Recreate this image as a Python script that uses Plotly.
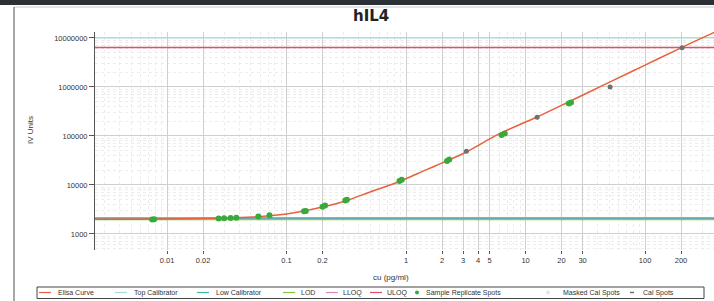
import plotly.graph_objects as go

# ---------------- data ----------------
curve_x = [0.0025, 0.01, 0.02, 0.047, 0.1, 0.2, 0.31, 0.5, 0.86, 1.5, 2.2, 3.2, 6, 12.5, 25, 50, 100, 200, 380]
curve_y = [2000, 2030, 2080, 2190, 2560, 3560, 4710, 7200, 11500, 20800, 31000, 47000, 110000,
           244000, 550000, 1240000, 2790000, 6300000, 13000000]

sample_x = [0.0075, 0.0078, 0.027, 0.030, 0.034, 0.038, 0.058, 0.072, 0.14, 0.145,
            0.20, 0.21, 0.31, 0.32, 0.88, 0.92, 2.2, 2.3, 6.3, 6.7, 23, 24]
sample_y = [1980, 2000, 2080, 2100, 2120, 2150, 2280, 2400, 2900, 2950,
            3600, 3800, 4800, 5000, 12000, 12800, 31000, 33000, 105000, 112000, 460000, 480000]

cal_x = [3.2, 12.5, 51, 204]
cal_y = [49000, 240000, 1000000, 6300000]

top_calibrator = 10000000
ulog = 6400000
lloq = 2150
low_calibrator = 2050
lod = 1950

x_tickvals = [0.01, 0.02, 0.1, 0.2, 1, 2, 3, 4, 5, 10, 20, 30, 100, 200]
x_ticktext = ["0.01", "0.02", "0.1", "0.2", "1", "2", "3", "4", "5", "10", "20", "30", "100", "200"]
y_tickvals = [1000, 10000, 100000, 1000000, 10000000]
y_ticktext = ["1000", "10000", "100000", "1000000", "10000000"]

legend_labels = ["Elisa Curve", "Top Calibrator", "Low Calibrator", "LOD", "LLOQ", "ULOQ",
                 "Sample Replicate Spots", "Masked Cal Spots", "Cal Spots"]

# ---------------- styles ----------------
C_CURVE = "#e8603c"
C_TOP = "#a9dbd3"
C_LOW = "#3fb5a8"
C_LOD = "#86c440"
C_LLOQ = "#d98ab8"
C_ULOQ = "#e0506a"
C_SAMPLE = "#3aa83a"
C_MASKED = "#e4e4e4"
C_CAL = "#707070"

W, H = 714, 301
L, R, T, B = 95, 714, 32, 250  # plot area in pixels
FONT = "Liberation Sans, Arial, sans-serif"

line_x = [0.001, 1000]

fig = go.Figure()
for val, col, wd in [(top_calibrator, C_TOP, 1), (ulog, C_ULOQ, 1.3), (lod, C_LOD, 1.2),
                     (low_calibrator, C_LOW, 1.2), (lloq, C_LLOQ, 1.2)]:
    fig.add_trace(go.Scatter(x=line_x, y=[val, val], mode="lines",
                             line=dict(color=col, width=wd), showlegend=False, hoverinfo="skip"))

fig.add_trace(go.Scatter(x=curve_x, y=curve_y, mode="lines", line=dict(color=C_CURVE, width=1.5, shape="spline"),
                         showlegend=False))
fig.add_trace(go.Scatter(x=sample_x, y=sample_y, mode="markers",
                         marker=dict(color=C_SAMPLE, size=6, line=dict(width=0)), showlegend=False))
fig.add_trace(go.Scatter(x=cal_x, y=cal_y, mode="markers",
                         marker=dict(color=C_CAL, size=5, line=dict(width=0)), showlegend=False))

minor_vals = [m * 10 ** e for e in range(-3, 8) for m in range(2, 10)]


def px2x(px):
    return (px - L) / (R - L)


def py2y(py):
    return (B - py) / (B - T)


fig.update_layout(
    width=W, height=H,
    margin=dict(l=L, r=W - R, t=T, b=H - B),
    paper_bgcolor="white", plot_bgcolor="white",
    showlegend=False,
    font=dict(family=FONT, size=8, color="#333"),
)
fig.update_xaxes(
    type="log", range=[-2.603, 2.577],
    tickvals=x_tickvals, ticktext=x_ticktext,
    ticks="outside", ticklen=3, tickcolor="#555",
    tickfont=dict(size=7.5, color="#333"),
    showgrid=True, gridcolor="#cfcfcf", gridwidth=1,
    minor=dict(tickvals=minor_vals, showgrid=True, gridcolor="#ececec", griddash="dot", ticks=""),
    showline=False, zeroline=False,
)
fig.update_yaxes(
    type="log", range=[2.673, 7.122],
    tickvals=y_tickvals, ticktext=y_ticktext,
    ticks="outside", ticklen=5, tickcolor="#555",
    tickfont=dict(size=7.5, color="#333"),
    showgrid=True, gridcolor="#cfcfcf", gridwidth=1,
    minor=dict(tickvals=minor_vals, showgrid=True, gridcolor="#ececec", griddash="dot", ticks=""),
    showline=True, linecolor="#555", linewidth=1, zeroline=False,
)

shapes = []
annotations = []
# frame
shapes.append(dict(type="rect", xref="paper", yref="paper", x0=px2x(0), x1=px2x(W), y0=py2y(5), y1=py2y(0),
                   fillcolor="#2b3036", line=dict(width=0), layer="above"))
shapes.append(dict(type="line", xref="paper", yref="paper", x0=px2x(14), x1=px2x(W), y0=py2y(7), y1=py2y(7),
                   line=dict(color="#c8c8c8", width=1)))
shapes.append(dict(type="line", xref="paper", yref="paper", x0=px2x(14), x1=px2x(14), y0=py2y(7), y1=py2y(H),
                   line=dict(color="#8a8a8a", width=1.5)))

# titles
annotations.append(dict(text="<b>hIL4</b>", xref="paper", yref="paper", x=px2x(371), y=py2y(16),
                        showarrow=False, font=dict(family="DejaVu Sans, sans-serif", size=15, color="#222"),
                        xanchor="center", yanchor="middle"))
annotations.append(dict(text="cu (pg/ml)", xref="paper", yref="paper", x=px2x(391), y=py2y(277),
                        showarrow=False, font=dict(size=8, color="#333"), xanchor="center", yanchor="middle"))
annotations.append(dict(text="IV Units", xref="paper", yref="paper", x=px2x(30), y=py2y(130),
                        showarrow=False, textangle=-90, font=dict(size=8, color="#333"),
                        xanchor="center", yanchor="middle"))

# manual legend
leg_y = 292.5
shapes.append(dict(type="rect", xref="paper", yref="paper", x0=px2x(37), x1=px2x(704), y0=py2y(298.5),
                   y1=py2y(287), line=dict(color="#444", width=1), fillcolor="white"))
legend_kind = ["line", "line", "line", "line", "line", "line", "dot", "dot", "dash"]
legend_col = [C_CURVE, C_TOP, C_LOW, C_LOD, C_LLOQ, C_ULOQ, C_SAMPLE, C_MASKED, C_CAL]
legend_sym_x = [39, 115, 197, 283, 326, 370, 417, 548, 632]
legend_txt_x = [56, 132, 214, 299, 341, 385, 424, 561, 641]
for lab, kind, col, sx, tx in zip(legend_labels, legend_kind, legend_col, legend_sym_x, legend_txt_x):
    if kind == "line":
        shapes.append(dict(type="line", xref="paper", yref="paper", x0=px2x(sx), x1=px2x(sx + 12),
                           y0=py2y(leg_y), y1=py2y(leg_y), line=dict(color=col, width=1.2)))
    elif kind == "dot":
        shapes.append(dict(type="circle", xref="paper", yref="paper", x0=px2x(sx - 2), x1=px2x(sx + 2),
                           y0=py2y(leg_y + 2), y1=py2y(leg_y - 2), fillcolor=col, line=dict(width=0)))
    else:
        shapes.append(dict(type="line", xref="paper", yref="paper", x0=px2x(sx - 2), x1=px2x(sx + 2),
                           y0=py2y(leg_y), y1=py2y(leg_y), line=dict(color=col, width=1.5)))
    annotations.append(dict(text=lab, xref="paper", yref="paper", x=px2x(tx), y=py2y(leg_y),
                            showarrow=False, font=dict(size=7, color="#333"),
                            xanchor="left", yanchor="middle"))

fig.update_layout(shapes=shapes, annotations=annotations)
fig.write_html("out.html", config={"displayModeBar": False},
               post_script="document.body.style.margin='0';document.body.style.overflow='hidden';")
